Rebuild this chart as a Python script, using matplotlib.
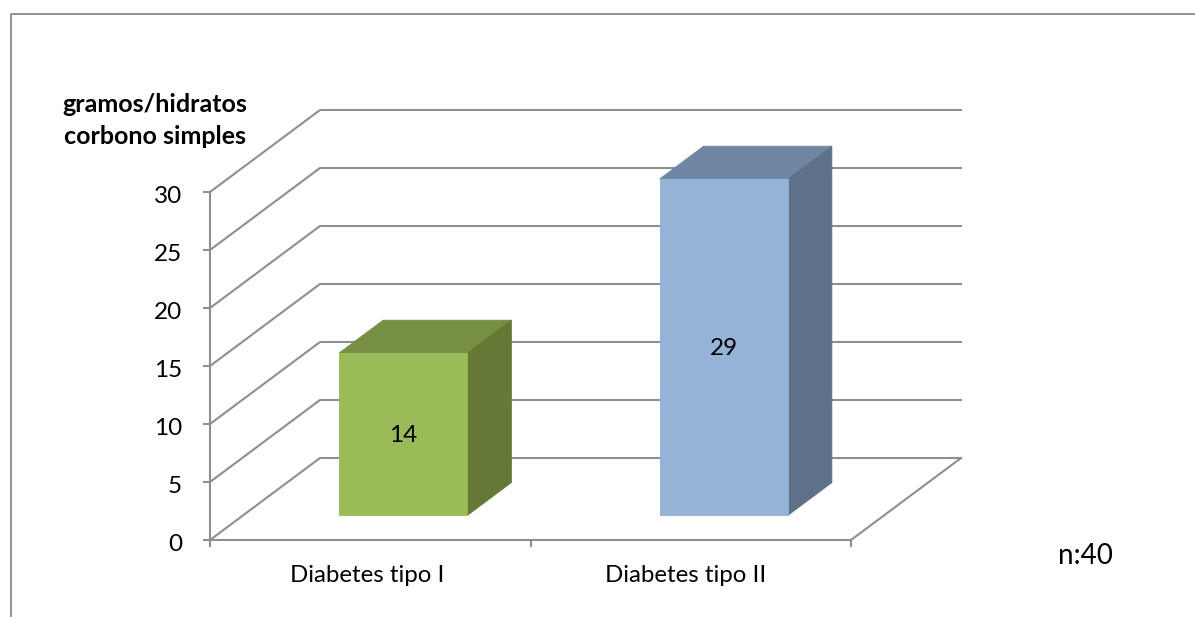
import matplotlib.pyplot as plt
from matplotlib.lines import Line2D
from matplotlib.transforms import ScaledTranslation

plt.rcParams['font.family'] = ['Lato', 'DejaVu Sans']

categories = ['Diabetes tipo I', 'Diabetes tipo II']
values = [14, 29]
y_ticks = [0, 5, 10, 15, 20, 25, 30]

front_colors = ['#9BBB59', '#95B3D7']
top_colors = ['#778F42', '#7086A5']
side_colors = ['#647935', '#5F7189']
line_color = '#8E8E8E'

W, H = 1195, 617
fig = plt.figure(figsize=(W / 100, H / 100), dpi=100)
ax = fig.add_axes([210 / W, 1 - 540 / H, 641 / W, 348 / H])
ax.set_xlim(0, len(categories))
ax.set_ylim(0, 30)

# how far the back wall is shifted from the front plane, in data units
DEPTH_X = 110 / 320.5
DEPTH_Y = 82 / 11.6
BAR_WIDTH = 0.4
BAR_NEAR = 0.3
BAR_FAR = 0.7


def project(x, y, d):
    return x + d * DEPTH_X, y + d * DEPTH_Y


def face(corners, color):
    pts = [project(*c) for c in corners]
    ax.fill([p[0] for p in pts], [p[1] for p in pts], color=color,
            lw=0.6, clip_on=False, zorder=3)


# walls and floor
for t in y_ticks:
    pts = [project(0, t, 0), project(0, t, 1), project(len(categories), t, 1)]
    ax.plot([p[0] for p in pts], [p[1] for p in pts], color=line_color,
            lw=1.5, clip_on=False, zorder=1)
pts = [project(len(categories), 0, 1), project(len(categories), 0, 0)]
ax.plot([p[0] for p in pts], [p[1] for p in pts], color=line_color,
        lw=1.5, clip_on=False, zorder=1)

# 3d bars
for i, v in enumerate(values):
    x0 = i + 0.5 - BAR_WIDTH / 2
    x1 = i + 0.5 + BAR_WIDTH / 2
    face([(x0, v, BAR_NEAR), (x1, v, BAR_NEAR), (x1, v, BAR_FAR), (x0, v, BAR_FAR)],
         top_colors[i])
    face([(x1, 0, BAR_NEAR), (x1, 0, BAR_FAR), (x1, v, BAR_FAR), (x1, v, BAR_NEAR)],
         side_colors[i])
    face([(x0, 0, BAR_NEAR), (x1, 0, BAR_NEAR), (x1, v, BAR_NEAR), (x0, v, BAR_NEAR)],
         front_colors[i])
    lx, ly = project(i + 0.5, v / 2, BAR_NEAR)
    ax.annotate(str(v), (lx, ly), xytext=(0, -1), textcoords='offset points',
                ha='center', va='center', fontsize=17.5, color='black', zorder=4)

# axes
for s in ['top', 'right']:
    ax.spines[s].set_visible(False)
for s in ['left', 'bottom']:
    ax.spines[s].set_color(line_color)
    ax.spines[s].set_linewidth(1.5)
ax.set_yticks(y_ticks)
ax.set_xticks(range(len(categories) + 1))
ax.set_xticklabels([])
ax.set_xticks([i + 0.49 - 0.005 * i for i in range(len(categories))], minor=True)
ax.set_xticklabels(categories, minor=True)
ax.tick_params(axis='x', which='major', length=5, width=1.5, color=line_color)
ax.tick_params(axis='x', which='minor', length=0, pad=18, labelsize=17.3)
ax.tick_params(axis='y', length=5, width=1.5, color=line_color, pad=15, labelsize=17.5)

# the value labels sit a little under their ticks
shift_down = ScaledTranslation(0, -2 / 72, fig.dpi_scale_trans)
for lab in ax.get_yticklabels():
    lab.set_transform(lab.get_transform() + shift_down)

fig.text(155 / W, 1 - 105 / H, 'gramos/hidratos', ha='center', va='center',
         fontsize=18, fontweight='bold')
fig.text(155 / W, 1 - 137 / H, 'corbono simples', ha='center', va='center',
         fontsize=18, fontweight='bold')
fig.text(1085 / W, 1 - 556 / H, 'n:40', ha='center', va='center', fontsize=20)

# outer frame, open at the right and bottom
frame = Line2D([10.5 / W, 10.5 / W, 1], [0, 1 - 13.5 / H, 1 - 13.5 / H],
               transform=fig.transFigure, color='#8A8A8A', lw=1.3)
fig.add_artist(frame)

fig.savefig('out.png', dpi=100)
